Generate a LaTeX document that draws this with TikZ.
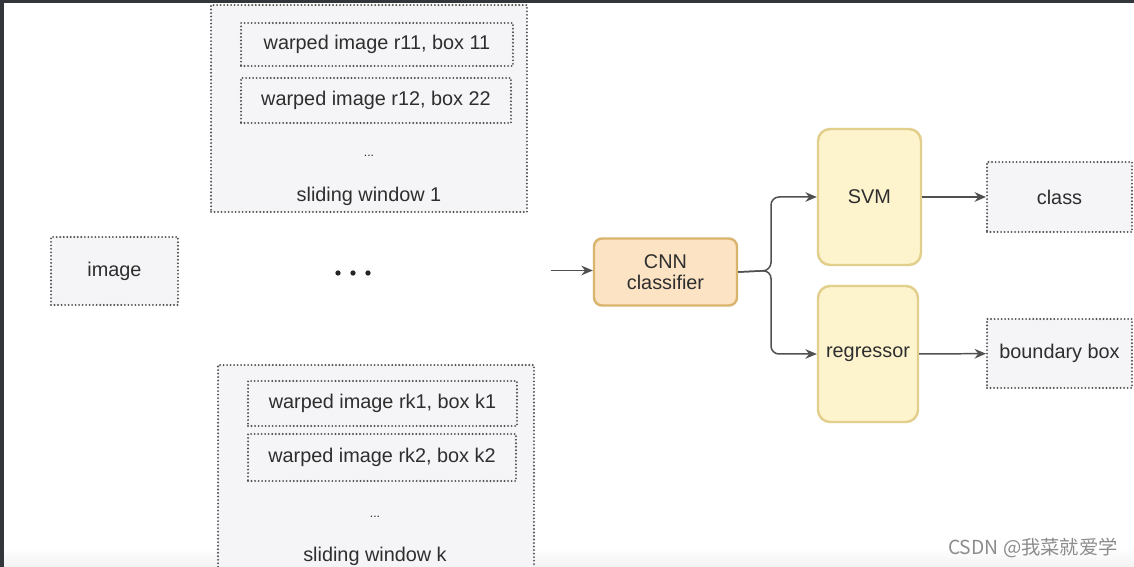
\documentclass[tikz,border=0pt]{standalone}
\usepackage{fontspec}
\setmainfont{Liberation Sans}
\newfontfamily\cjkfont{Noto Sans CJK SC}
\usetikzlibrary{arrows.meta}
\definecolor{ink}{HTML}{2E2E2E}
\definecolor{dotline}{HTML}{505050}
\definecolor{boxgray}{HTML}{F5F5F7}
\definecolor{cnnfill}{HTML}{FCE3C4}
\definecolor{cnnline}{HTML}{D8B46C}
\definecolor{svmfill}{HTML}{FDF3CD}
\definecolor{svmline}{HTML}{E2CF8C}
\definecolor{frame}{HTML}{33363B}
\begin{document}
\begin{tikzpicture}[x=0.02cm,y=-0.02cm,
  every node/.style={font=\fontsize{11.3}{12}\selectfont,text=ink},
  dotbox/.style={draw=dotline,fill=boxgray,line width=1.2pt,line cap=round,dash pattern=on 0pt off 2pt,inner sep=0pt},
  cnnbox/.style={draw=cnnline,fill=cnnfill,line width=1.4pt,rounded corners=0.16cm,align=center},
  svmbox/.style={draw=svmline,fill=svmfill,line width=1.4pt,rounded corners=0.24cm},
  flow/.style={draw=dotline,line width=0.85pt,-{Stealth[length=6.5pt,width=5.5pt]}}]
\clip (0,0) rectangle (1134,567);
\fill[white] (0,0) rectangle (1134,567);
\shade[top color=white,bottom color=black!5] (0,548) rectangle (1134,567);
\fill[frame] (0,0) rectangle (1134,3);
\fill[frame] (0,0) rectangle (4,567);

\node[dotbox,minimum width=6.32cm,minimum height=4.14cm] (win1) at (369,108.5) {};
\node[dotbox,minimum width=5.44cm,minimum height=0.86cm] (r11) at (377,44.5) {warped image r11, box 11};
\node[dotbox,minimum width=5.4cm,minimum height=0.9cm] (r12) at (376,100.5) {warped image r12, box 22};
\node (more1) at (369,156) {\fontsize{7}{8}\selectfont ...};
\node (lab1) at (369,196) {sliding window 1};

\node[dotbox,minimum width=6.32cm,minimum height=4.2cm] (wink) at (376,470) {};
\node[dotbox,minimum width=5.38cm,minimum height=0.9cm] (rk1) at (382.5,403.5) {warped image rk1, box k1};
\node[dotbox,minimum width=5.36cm,minimum height=0.94cm] (rk2) at (382,457.5) {warped image rk2, box k2};
\node (morek) at (375,517) {\fontsize{7}{8}\selectfont ...};
\node (labk) at (375,556) {sliding window k};

\node[dotbox,minimum width=2.54cm,minimum height=1.36cm] (img) at (114.5,271) {image};
\foreach \x in {338,353,368}
  \fill[black!85] (\x,273) circle (1.5pt);

\coordinate (in) at (551,270.5);
\node[cnnbox,minimum width=2.86cm,minimum height=1.34cm] (cnn) at (665.5,272) {CNN\\classifier};
\node[svmbox,minimum width=2.06cm,minimum height=2.72cm] (svm) at (869.5,197) {SVM};
\node[svmbox,minimum width=2.0cm,minimum height=2.72cm] (reg) at (868,354) {regressor};
\node[dotbox,minimum width=2.9cm,minimum height=1.4cm] (cls) at (1059.5,197) {class};
\node[dotbox,minimum width=2.9cm,minimum height=1.38cm] (bbox) at (1059.5,353.5) {boundary box};

\draw[flow] (in) -- (in -| cnn.west);
\draw[flow,rounded corners=0.16cm] (cnn.east) -- (771,270.5) |- (svm.west);
\draw[flow,rounded corners=0.16cm] (cnn.east) -- (771,270.5) |- (reg.west);
\draw[flow] (svm) -- (cls);
\draw[flow] (reg) -- (bbox);

\node[text=black!45] (mark) at (1033,548) {\cjkfont\fontsize{11}{12}\selectfont CSDN @我菜就爱学};
\end{tikzpicture}
\end{document}
